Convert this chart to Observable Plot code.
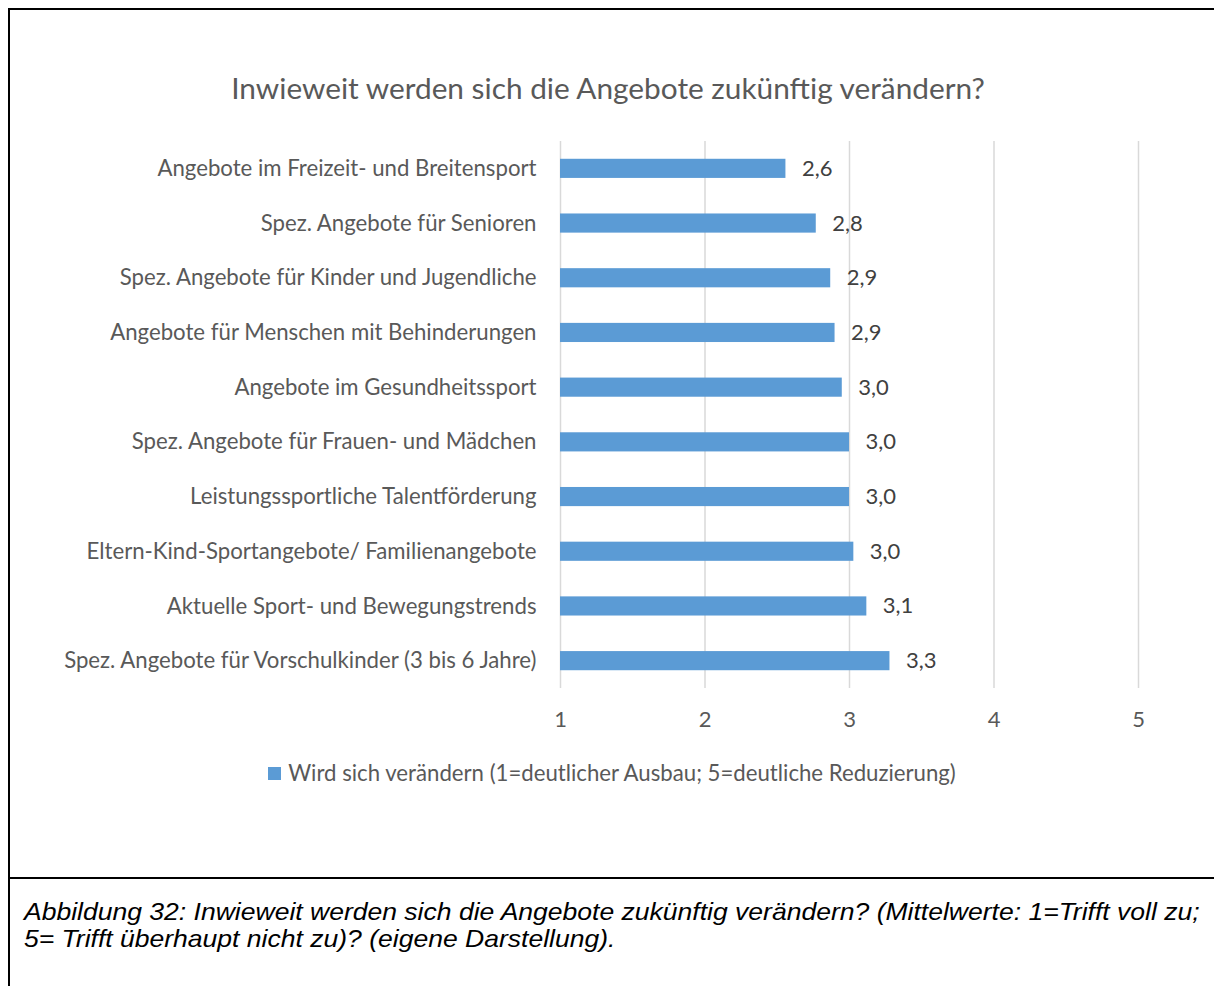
<!DOCTYPE html>
<html>
<head>
<meta charset="utf-8">
<script src="https://cdn.jsdelivr.net/npm/d3@7"></script>
<script src="https://cdn.jsdelivr.net/npm/@observablehq/plot@0.6"></script>
<style>
  html, body { margin: 0; padding: 0; background: #fff; }
  #page { position: relative; width: 1214px; height: 986px; overflow: hidden; background: #fff; }
  #frame { position: absolute; left: 8px; top: 8px; width: 1220px; height: 990px; border-left: 2px solid #000; border-top: 2px solid #000; }
  #sep { position: absolute; left: 8px; top: 877px; width: 1220px; height: 2px; background: #000; }
  #title { position: absolute; left: 0; top: 73px; width: 1216px; text-align: center; font-family: Lato, sans-serif; font-size: 29.8px; line-height: 29.8px; color: #595959; }
  #chart { position: absolute; left: 0; top: 130px; }
  #legend { position: absolute; left: 5px; top: 762px; width: 1214px; display: flex; justify-content: center; align-items: center; font-family: Lato, sans-serif; font-size: 22.2px; line-height: 22px; color: #595959; }
  #legend .sw { display: inline-block; width: 13px; height: 13px; background: #5B9BD5; margin-right: 7px; }
  #caption { position: absolute; left: 24px; top: 898px; font-family: "Liberation Sans", Arial, sans-serif; font-style: italic; font-size: 24px; line-height: 27px; color: #000; white-space: nowrap; transform: scaleX(1.105); transform-origin: 0 0; }
</style>
</head>
<body>
<div id="page">
  <div id="frame"></div>
  <div id="sep"></div>
  <div id="title"></div>
  <div id="chart"></div>
  <div id="legend"></div>
  <div id="caption"></div>
</div>
<script>
const categories = [
  "Angebote im Freizeit- und Breitensport",
  "Spez. Angebote für Senioren",
  "Spez. Angebote für Kinder und Jugendliche",
  "Angebote für Menschen mit Behinderungen",
  "Angebote im Gesundheitssport",
  "Spez. Angebote für Frauen- und Mädchen",
  "Leistungssportliche Talentförderung",
  "Eltern-Kind-Sportangebote/ Familienangebote",
  "Aktuelle Sport- und Bewegungstrends",
  "Spez. Angebote für Vorschulkinder (3 bis 6 Jahre)"
];
const values = [2.56, 2.77, 2.87, 2.90, 2.95, 3.00, 3.00, 3.03, 3.12, 3.28];
const xTicks = [1, 2, 3, 4, 5];
const seriesName = "Wird sich verändern (1=deutlicher Ausbau; 5=deutliche Reduzierung)";
const titleText = "Inwieweit werden sich die Angebote zukünftig verändern?";
const captionLines = [
  "Abbildung 32: Inwieweit werden sich die Angebote zukünftig verändern? (Mittelwerte: 1=Trifft voll zu;",
  "5= Trifft überhaupt nicht zu)? (eigene Darstellung)."
];

const data = categories.map((c, i) => ({category: c, value: values[i]}));
const fmt = v => v.toFixed(1).replace(".", ",");

document.getElementById("title").textContent = titleText;
document.getElementById("legend").innerHTML = '<span class="sw"></span><span>' + seriesName + '</span>';
document.getElementById("caption").innerHTML = captionLines.join("<br>");

const chart = Plot.plot({
  width: 1214,
  height: 620,
  marginLeft: 560,
  marginRight: 76,
  marginTop: 11,
  marginBottom: 62,
  style: {background: "transparent", fontFamily: "Lato, sans-serif", fontSize: "22px", color: "#595959"},
  x: {domain: [1, 5], label: null},
  y: {domain: categories, paddingInner: 0.65, paddingOuter: 0.325, round: false, label: null},
  marks: [
    Plot.gridX(xTicks, {stroke: "#d9d9d9", strokeOpacity: 1, strokeWidth: 1.5}),
    Plot.axisX(xTicks, {tickSize: 0, tickPadding: 23, label: null, fill: "#595959", fontSize: 22, tickFormat: d => String(d)}),
    Plot.axisY({tickSize: 0, tickPadding: 24, label: null, fill: "#595959", fontSize: 22.2}),
    Plot.barX(data, {x1: d => 1, x2: "value", y: "category", fill: "#5B9BD5"}),
    Plot.text(data, {x: "value", y: "category", text: d => fmt(d.value), dx: 16, textAnchor: "start", fill: "#404040", fontSize: 22})
  ]
});
document.getElementById("chart").appendChild(chart);
</script>
</body>
</html>
